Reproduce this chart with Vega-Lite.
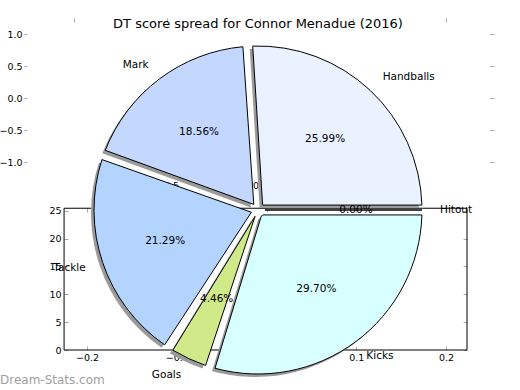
{
  "$schema": "https://vega.github.io/schema/vega-lite/v6.json",
  "width": 462,
  "height": 360,
  "autosize": "none",
  "padding": {"left": 27, "top": 30, "right": 31, "bottom": 0},
  "background": "white",
  "config": {
    "view": {"stroke": null},
    "font": "DejaVu Sans",
    "axis": {"grid": false, "domain": false, "labelFont": "DejaVu Sans", "labelFontSize": 9.5, "labelColor": "#000000", "tickColor": "#aaaaaa", "tickSize": 4, "labelFlush": false, "labelOverlap": false}
  },
  "title": {"text": "DT score spread for Connor Menadue (2016)", "fontSize": 13, "fontWeight": "normal", "font": "DejaVu Sans", "color": "#000000", "anchor": "middle", "offset": 0, "dy": 13},
  "datasets": {
    "one": [{}],
    "pie": [
      {"category": "Hitout", "share": 0.0, "order": 1},
      {"category": "Kicks", "share": 0.297, "order": 2},
      {"category": "Goals", "share": 0.0446, "order": 3},
      {"category": "Tackle", "share": 0.2129, "order": 4},
      {"category": "Mark", "share": 0.1856, "order": 5},
      {"category": "Handballs", "share": 0.2599, "order": 6}
    ]
  },
  "resolve": {"scale": {"x": "independent", "y": "independent"}, "axis": {"x": "independent", "y": "independent"}},
  "layer": [
    {
      "data": {"name": "one"},
      "mark": {"type": "point", "opacity": 0},
      "encoding": {
        "x": {"datum": 0, "type": "quantitative", "scale": {"domain": [-1.2527, 1.2312], "nice": false, "zero": false},
              "axis": {"orient": "bottom", "offset": -212, "values": [-0.5, 0, 0.5], "format": ".1f", "ticks": false, "labelPadding": 2, "title": null}},
        "y": {"datum": 0, "type": "quantitative", "scale": {"domain": [-4.5625, 1.0625], "nice": false, "zero": false},
              "axis": {"orient": "left", "values": [1, 0.5, 0, -0.5, -1], "format": ".1f", "tickSize": 3, "labelPadding": 2, "title": null}}
      }
    },
    {
      "data": {"name": "one"},
      "mark": {"type": "point", "opacity": 0},
      "encoding": {
        "x": {"datum": 0, "type": "quantitative", "scale": {"domain": [-1.2527, 1.2312], "nice": false, "zero": false},
              "axis": {"orient": "top", "offset": 8, "values": [-1, -0.5, 0, 0.5, 1], "labels": false, "title": null}},
        "y": {"datum": 0, "type": "quantitative", "scale": {"domain": [-4.5625, 1.0625], "nice": false, "zero": false},
              "axis": {"orient": "right", "offset": 1, "values": [1, 0.5, 0, -0.5, -1], "labels": false, "title": null}}
      }
    },
    {
      "data": {"name": "one"},
      "layer": [
        {
          "mark": {"type": "rect", "filled": false, "stroke": "#000000", "strokeWidth": 1},
          "encoding": {
            "x": {"datum": -0.2256, "type": "quantitative", "scale": {"domain": [-0.2669, 0.2479], "nice": false, "zero": false},
                  "axis": {"orient": "bottom", "offset": -44, "values": [-0.2, -0.1, 0, 0.1, 0.2], "format": ".1f", "labelPadding": 2, "title": null}},
            "x2": {"datum": 0.2234},
            "y": {"datum": 0, "type": "quantitative", "scale": {"domain": [-7.18, 57.45], "nice": false, "zero": false},
                  "axis": {"orient": "left", "offset": -41, "values": [0, 5, 10, 15, 20, 25], "format": "d", "labelPadding": 3, "title": null}},
            "y2": {"datum": 25.45}
          }
        },
        {
          "mark": {"type": "text", "align": "left", "baseline": "middle", "fontSize": 12, "color": "#a0a0a0", "font": "DejaVu Sans"},
          "encoding": {
            "x": {"datum": -0.297, "type": "quantitative"},
            "y": {"datum": -5.4, "type": "quantitative"},
            "text": {"value": "Dream-Stats.com"}
          }
        }
      ]
    },
    {
      "data": {"name": "one"},
      "mark": {"type": "point", "opacity": 0},
      "encoding": {
        "x": {"datum": 0, "type": "quantitative", "scale": {"domain": [-0.2669, 0.2479], "nice": false, "zero": false},
              "axis": {"orient": "top", "offset": -182, "values": [-0.2, -0.1, 0, 0.1, 0.2], "labels": false, "title": null}},
        "y": {"datum": 0, "type": "quantitative", "scale": {"domain": [-7.18, 57.45], "nice": false, "zero": false},
              "axis": {"orient": "right", "offset": -26, "values": [0, 5, 10, 15, 20, 25], "labels": false, "title": null}}
      }
    },
    {
      "data": {"name": "pie"},
      "encoding": {
        "theta": {"field": "share", "type": "quantitative", "stack": true, "scale": {"range": [1.5708, 7.854]}},
        "order": {"field": "order", "type": "quantitative"}
      },
      "layer": [
        {
          "mark": {"type": "arc", "innerRadius": 7, "outerRadius": 164, "padAngle": 0.06, "fill": "#9a9a9a", "xOffset": -3, "yOffset": 3}
        },
        {
          "mark": {"type": "arc", "innerRadius": 7, "outerRadius": 164, "padAngle": 0.06, "stroke": "#000000", "strokeWidth": 1},
          "encoding": {
            "color": {"field": "category", "type": "nominal", "legend": null,
                      "scale": {"domain": ["Handballs", "Mark", "Tackle", "Goals", "Kicks", "Hitout"],
                                "range": ["#eaf2ff", "#c4d8ff", "#b3d4ff", "#d0ea8a", "#d8ffff", "#ffe4b5"]}}
          }
        },
        {
          "mark": {"type": "text", "radius": 182, "fontSize": 10.5, "font": "DejaVu Sans", "color": "#000000", "baseline": "middle",
                   "align": {"expr": "indexof(['Handballs','Kicks','Hitout'], datum.category) >= 0 ? 'left' : 'right'"}},
          "encoding": {"text": {"field": "category", "type": "nominal"}}
        },
        {
          "mark": {"type": "text", "radius": 98, "fontSize": 10.5, "font": "DejaVu Sans", "color": "#000000", "baseline": "middle", "align": "center"},
          "encoding": {"text": {"field": "share", "type": "quantitative", "format": ".2%"}}
        }
      ]
    }
  ]
}
